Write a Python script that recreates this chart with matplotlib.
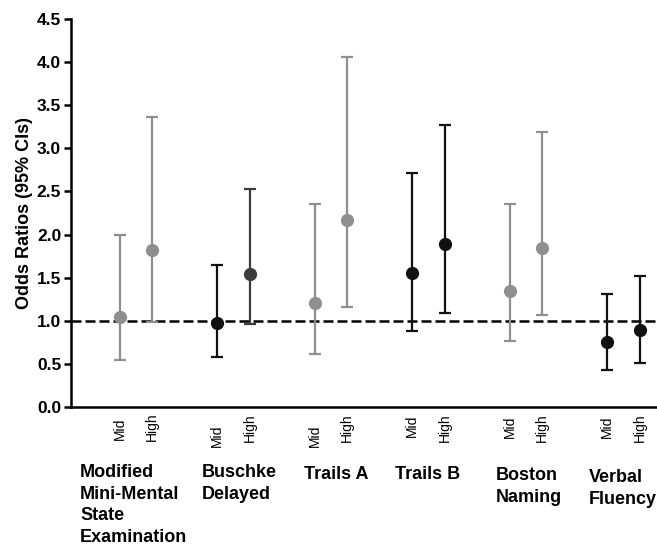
import numpy as np
import matplotlib.pyplot as plt

plt.rcParams['font.family'] = ['Liberation Sans', 'DejaVu Sans']

# Odds ratios with 95% CIs
groups = ["Modified\nMini-Mental\nState\nExamination", "Buschke\nDelayed", "Trails A",
          "Trails B", "Boston\nNaming", "Verbal\nFluency"]
levels = ["Mid", "High"]
or_mid = [1.04, 0.98, 1.21, 1.55, 1.35, 0.75]
lo_mid = [0.55, 0.58, 0.62, 0.88, 0.77, 0.43]
hi_mid = [1.99, 1.65, 2.35, 2.71, 2.36, 1.31]
or_high = [1.82, 1.54, 2.17, 1.89, 1.85, 0.89]
lo_high = [0.99, 0.96, 1.16, 1.09, 1.07, 0.51]
hi_high = [3.36, 2.53, 4.06, 3.27, 3.19, 1.52]
col_mid = ["#8f8f8f", "#111111", "#8f8f8f", "#111111", "#8f8f8f", "#111111"]
col_high = ["#8f8f8f", "#3c3c3c", "#8f8f8f", "#111111", "#8f8f8f", "#111111"]

# pixel rows where the rotated Mid / High labels end (layout only)
mid_bottom = [440, 447, 447, 437, 438, 438]
high_bottom = [441, 442, 442, 442, 442, 442]

W, H = 657, 545
fig = plt.figure(figsize=(W / 100, H / 100), dpi=100)
ax = fig.add_axes([0.108, 0.2532, 0.892, 0.7118])

off = 1 / 6
for i in range(len(groups)):
    for xpos, o, lo, hi, c, lab, yb in [
            (i - off, or_mid[i], lo_mid[i], hi_mid[i], col_mid[i], levels[0], mid_bottom[i]),
            (i + off, or_high[i], lo_high[i], hi_high[i], col_high[i], levels[1], high_bottom[i])]:
        ax.errorbar([xpos], [o], yerr=[[o - lo], [hi - o]], fmt="o", color=c,
                    ms=8.5, elinewidth=1.6, capsize=4.2, capthick=1.6, zorder=3)
        ax.text(xpos, 1 - (yb - 19) / 388, lab, transform=ax.get_xaxis_transform(),
                rotation=90, fontsize=10, ha="center", va="bottom",
                rotation_mode="default")

ax.axhline(1.0, color="black", lw=1.8, linestyle=(0, (4, 1.6)), zorder=2)

ax.set_xlim(-0.667, 5.344)
ax.set_ylim(0, 4.5)
ax.set_yticks(np.arange(0, 4.51, 0.5))
ax.set_yticklabels([f"{v:.1f}" for v in np.arange(0, 4.51, 0.5)], fontsize=12.5, fontweight="bold")
ax.set_xticks([])
ax.tick_params(axis="y", length=5, width=1.8, pad=2)
ax.set_ylabel("Odds Ratios (95% CIs)", fontsize=13, fontweight="bold", labelpad=3)

for s in ["top", "right"]:
    ax.spines[s].set_visible(False)
for s in ["left", "bottom"]:
    ax.spines[s].set_linewidth(1.8)

group_x = [80, 202, 304, 395, 496, 589]
group_y = [464, 464, 466, 466, 467, 469]
for g, gx, gy in zip(groups, group_x, group_y):
    fig.text(gx / W, 1 - gy / H, g, fontsize=13, fontweight="bold",
             ha="left", va="top", linespacing=1.35)

fig.savefig("out.png", dpi=100)
